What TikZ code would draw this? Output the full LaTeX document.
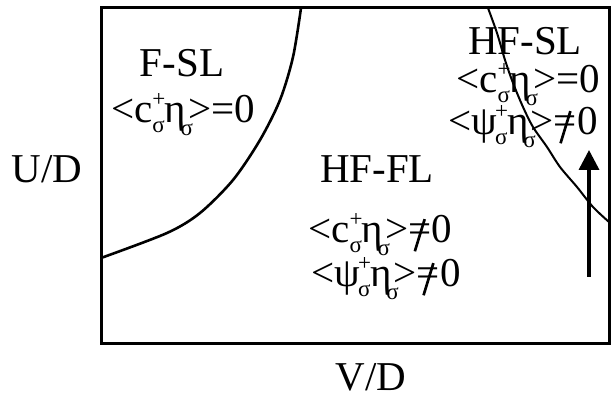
\documentclass[tikz,border=0pt]{standalone}
\usepackage{fontspec}
\setmainfont{Liberation Serif}
\usetikzlibrary{arrows.meta}
\newcommand\scr[1]{{\fontsize{23}{23}\selectfont #1}}
\newcommand\csig{c\rlap{\raisebox{0.40em}{\scr{+}}}\raisebox{-0.22em}{\scr{σ}}}
\newcommand\psig{ψ\kern-0.05em\rlap{\raisebox{0.40em}{\scr{+}}}\raisebox{-0.22em}{\scr{σ}}}
\newcommand\esig{η\kern-0.14em\raisebox{-0.30em}{\scr{σ}}\kern-0.12em}
\newcommand\myneq{\ooalign{=\cr\hfil\raisebox{-0.22em}{\rotatebox[origin=c]{-17}{\rule{0.065em}{0.82em}}}\hfil\cr}}
\tikzset{
  lbl/.style={inner sep=0pt, anchor=base, font=\fontsize{41}{45}\selectfont},
  bd/.style={line width=3pt},
  bdy/.style={line width=2.6pt},
  bdy2/.style={line width=2pt},
}
\begin{document}
\begin{tikzpicture}[x=1pt,y=1pt]
\useasboundingbox (0,0) rectangle (613,399);
\draw[bd] (101,55) rectangle (609,391);
% phase boundaries
\draw[bdy] plot[smooth] coordinates {(101,141) (167,166) (200,186) (233,219) (260,259) (280,299) (293,342) (301,391)};
\draw[bdy2] plot[smooth] coordinates {(488,391) (497,366) (505,339) (513,316) (523,292) (533,272) (547,252) (560,232) (577,212) (593,192) (609,177)};
% arrow
\coordinate (aS) at (589,122);
\coordinate (aE) at (589,249);
\draw[line width=3.5pt, -{Triangle[length=20pt,width=20pt]}] (aS) -- (aE);
% labels
\node[lbl] (fsl) at (182,322) {F-SL};
\node[lbl] (fsl2) at (183,276) {<\csig\esig>=0};
\node[lbl] (hffl) at (377,216) {HF-FL};
\node[lbl] (hffl2) at (380,156) {<\csig\esig>\myneq0};
\node[lbl] (hffl3) at (386,112) {<\psig\esig>\myneq0};
\node[lbl] (hfsl) at (525,344) {HF-SL};
\node[lbl] (hfsl2) at (528,306) {<\csig\esig>=0};
\node[lbl] (hfsl3) at (523,264) {<\psig\esig>\myneq0};
\node[lbl] (ud) at (47,216) {U/D};
\node[lbl] (vd) at (371,9) {V/D};
\end{tikzpicture}
\end{document}
